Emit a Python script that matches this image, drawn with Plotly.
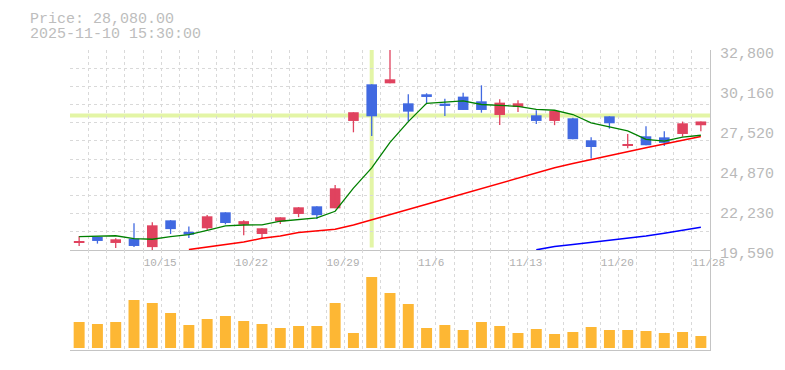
import plotly.graph_objects as go

# ---------------- data ----------------
dates = ["2025-10-08", "2025-10-09", "2025-10-10", "2025-10-14", "2025-10-15", "2025-10-16",
         "2025-10-17", "2025-10-20", "2025-10-21", "2025-10-22", "2025-10-23", "2025-10-24",
         "2025-10-27", "2025-10-28", "2025-10-29", "2025-10-30", "2025-10-31", "2025-11-04",
         "2025-11-05", "2025-11-06", "2025-11-07", "2025-11-10", "2025-11-11", "2025-11-12",
         "2025-11-13", "2025-11-14", "2025-11-17", "2025-11-18", "2025-11-19", "2025-11-20",
         "2025-11-21", "2025-11-25", "2025-11-26", "2025-11-27", "2025-11-28"]
opens = [20070, 20451, 20055, 20341, 19780, 21550, 20790, 21023, 22080, 21265, 20649, 21485,
         21970, 22476, 22344, 28113, 30534, 30600, 29279, 29874, 29257, 29720, 29411, 28509,
         29037, 28487, 28113, 28289, 26836, 28420, 26461, 27100, 27030, 27254, 27830]
highs = [20520, 20460, 20360, 21354, 21420, 21560, 21150, 21900, 22080, 21551, 21023, 21760,
         22420, 22476, 23884, 28685, 30534, 32800, 29874, 29940, 29588, 29984, 30468, 29544,
         29478, 28817, 28839, 28333, 27040, 28420, 27250, 27760, 27430, 28071, 28080]
lows = [19858, 20012, 19715, 19790, 19590, 20650, 20385, 20891, 21287, 20570, 20350, 21300,
        21760, 21630, 22344, 27364, 27121, 30600, 28113, 29257, 28443, 28839, 28663, 27848,
        28707, 27914, 27836, 26910, 25626, 27607, 26307, 26515, 26460, 27080, 27440]
closes = [20100, 20187, 20297, 19856, 21221, 20970, 20600, 21816, 21374, 21495, 21023, 21750,
          22410, 21890, 23665, 28690, 28421, 30865, 28729, 29698, 29103, 28839, 28839, 29323,
          29279, 28113, 28772, 26910, 26394, 27960, 26580, 26510, 26665, 27958, 28080]
volumes = [26, 24, 26, 48, 45, 35, 23, 29, 32, 27, 24, 20, 22, 22, 45, 15, 71, 55, 44, 20,
           23, 18, 26, 22, 15, 19, 14, 16, 21, 18, 18, 17, 15, 16, 12]   # thousand shares
ma5 = [20475, 20480, 20530, 20345, 20300, 20470, 20600, 20880, 21190, 21240, 21255, 21490,
       21610, 21710, 22150, 23680, 25010, 26700, 28070, 29280, 29360, 29440, 29200, 29150,
       29080, 28880, 28820, 28540, 27990, 27720, 27460, 26900, 26780, 27050, 27170]
ma25 = [None] * 6 + [19617, 19768, 19947, 20118, 20363, 20515, 20739, 20845, 20957, 21241,
                     21571, 21948, 22278, 22608, 22960, 23310, 23660, 24000, 24360, 24700,
                     25020, 25310, 25580, 25840, 26090, 26350, 26590, 26840, 27080]
ma75 = [None] * 25 + [19600, 19815, 19947, 20079, 20211, 20383, 20515, 20693, 20871, 21089]

price_ticks = [19590, 22230, 24870, 27520, 30160, 32800]
date_labels = ["10/15", "10/22", "10/29", "11/6", "11/13", "11/20", "11/28"]
header_price = "Price: 28,080.00"
header_time = "2025-11-10 15:30:00"
crosshair_index = 16
crosshair_price = 28470

# ---------------- styling ----------------
RED = "#e0435f"
BLUE = "#4169e1"
VOL = "#fdb734"
GRID = "#d9d9d9"
AXLINE = "#c4c4c4"
TXT = "#b9b9b9"
FONT = "Liberation Mono, Courier New, monospace"

n = len(dates)
idx = list(range(n))
up = [c >= o for o, c in zip(opens, closes)]
colors = [RED if u else BLUE for u in up]

def short(d):
    m, day = d[5:7], d[8:10]
    return f"{int(m)}/{int(day)}"

edges = [i - 0.5 for i in range(n + 1)]
edge_text = [""] * (n + 1)
for i, d in enumerate(dates):
    if short(d) in date_labels:
        edge_text[i] = short(d)

y_lo, y_hi = price_ticks[0], price_ticks[-1]
grid_vals = [y_lo + k * (y_hi - y_lo) / 11 for k in range(12)]

fig = go.Figure()

# wicks
for col in (RED, BLUE):
    wx, wy = [], []
    for i in idx:
        if colors[i] == col:
            wx += [i, i, None]
            wy += [lows[i], highs[i], None]
    fig.add_trace(go.Scatter(x=wx, y=wy, mode="lines", line=dict(color=col, width=1.3),
                             hoverinfo="skip", showlegend=False, xaxis="x", yaxis="y"))

# bodies
base = [min(o, c) for o, c in zip(opens, closes)]
height = [max(abs(c - o), 60) for o, c in zip(opens, closes)]
fig.add_trace(go.Bar(x=idx, y=height, base=base, width=0.58, marker=dict(color=colors, line=dict(width=0)),
                     showlegend=False, xaxis="x", yaxis="y"))

# moving averages
fig.add_trace(go.Scatter(x=idx, y=ma75, mode="lines", line=dict(color="#0000ff", width=1.5),
                         showlegend=False, xaxis="x", yaxis="y"))
fig.add_trace(go.Scatter(x=idx, y=ma25, mode="lines", line=dict(color="#ff0000", width=1.5),
                         showlegend=False, xaxis="x", yaxis="y"))
fig.add_trace(go.Scatter(x=idx, y=ma5, mode="lines", line=dict(color="#008000", width=1.3),
                         showlegend=False, xaxis="x", yaxis="y"))

# volume
fig.add_trace(go.Bar(x=idx, y=volumes, width=0.6, marker=dict(color=VOL, line=dict(width=0)),
                     showlegend=False, xaxis="x2", yaxis="y2"))

# invisible trace for the right price-label axis
fig.add_trace(go.Scatter(x=[0], y=[y_lo], mode="markers", marker=dict(opacity=0),
                         hoverinfo="skip", showlegend=False, xaxis="x", yaxis="y3"))

# crosshair
fig.add_shape(type="line", xref="x", yref="y domain", x0=crosshair_index, x1=crosshair_index,
              y0=0.013, y1=1, line=dict(color="#e3f5a6", width=4), layer="below")
fig.add_shape(type="line", xref="x domain", yref="y", x0=0, x1=1, y0=crosshair_price,
              y1=crosshair_price, line=dict(color="#e3f5a6", width=4), layer="below")

grid_common = dict(showgrid=True, gridcolor=GRID, gridwidth=1, griddash="3px,3px", zeroline=False)

fig.update_layout(
    width=785, height=370,
    margin=dict(l=70, r=75, t=50, b=20, autoexpand=False),
    paper_bgcolor="white", plot_bgcolor="white",
    barmode="overlay",
    showlegend=False,
    font=dict(family=FONT, color=TXT),
    xaxis=dict(domain=[0, 1], anchor="y", range=[-0.5, n - 0.5], tickmode="array",
               tickvals=edges, ticktext=edge_text, ticks="", showline=True, linecolor=AXLINE,
               linewidth=1, tickfont=dict(size=11, color="#b0b0b0", family=FONT),
               ticklabelposition="outside right", ticklabelstandoff=2, automargin=False,
               **grid_common),
    xaxis2=dict(domain=[0, 1], anchor="y2", matches="x", range=[-0.5, n - 0.5], tickmode="array",
                tickvals=edges, showticklabels=False, ticks="", showline=True, linecolor=AXLINE,
                linewidth=1, automargin=False, **grid_common),
    yaxis=dict(domain=[1 / 3, 1], anchor="x", range=[y_lo, y_hi], tickmode="array",
               tickvals=grid_vals, showticklabels=False, ticks="", showline=False,
               automargin=False, **grid_common),
    yaxis3=dict(overlaying="y", anchor="x", side="right", range=[y_lo, y_hi], tickmode="array",
                tickvals=price_ticks, ticktext=[f"{v:,}" for v in price_ticks], showgrid=False,
                zeroline=False, showline=True, linecolor=AXLINE, linewidth=1, ticks="",
                tickfont=dict(size=15, color=TXT, family=FONT), ticklabelstandoff=6,
                ticklabelshift=3, automargin=False),
    yaxis2=dict(domain=[0, 1 / 3], anchor="x2", side="right", range=[-2, 98], showticklabels=False,
                showgrid=False, zeroline=False, showline=True, linecolor=AXLINE, linewidth=1,
                ticks="", automargin=False),
)

fig.add_annotation(text=header_price, xref="paper", yref="paper", x=-42 / 640, y=(350 - 19.5) / 300,
                   xanchor="left", yanchor="middle", showarrow=False,
                   font=dict(size=15, color="#bdbdbd", family=FONT))
fig.add_annotation(text=header_time, xref="paper", yref="paper", x=-42 / 640, y=(350 - 34.5) / 300,
                   xanchor="left", yanchor="middle", showarrow=False,
                   font=dict(size=15, color="#bdbdbd", family=FONT))

fig.write_html("out.html", config={"displayModeBar": False},
               post_script="document.body.style.margin='0px';")
